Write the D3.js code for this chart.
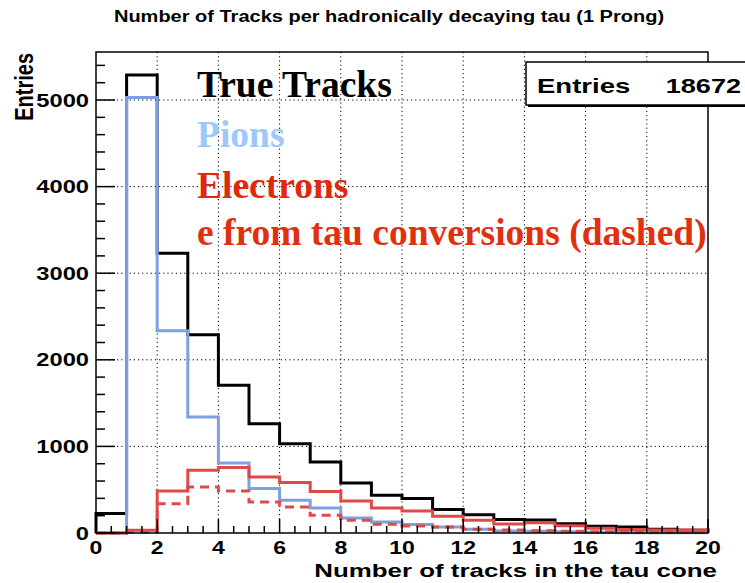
<!DOCTYPE html>
<html>
<head>
<meta charset="utf-8">
<script src="https://cdn.jsdelivr.net/npm/d3@7"></script>
<style>
  html, body { margin: 0; padding: 0; background: #fff; }
  svg { display: block; }
</style>
</head>
<body>
<svg id="chart" width="745" height="583"></svg>
<script>
// Bin lower edges (bin width 1, range 0..20)
const binLow = [0, 1, 2, 3, 4, 5, 6, 7, 8, 9, 10, 11, 12, 13, 14, 15, 16, 17, 18, 19];
const binHighLast = 20;

// Entries per bin
const trueTracks = [225, 5290, 3230, 2290, 1706, 1263, 1032, 820, 578, 435, 397, 270, 212, 155, 150, 108, 77, 69, 43, 32];
const pions      = [0, 5030, 2335, 1340, 808, 513, 378, 289, 173, 127, 97, 69, 43, 23, 20, 15, 10, 3, 2, 2];
const electrons  = [0, 31, 485, 724, 755, 647, 582, 480, 370, 289, 254, 193, 147, 105, 118, 85, 55, 40, 35, 35];
const tauConv    = [0, 10, 339, 531, 485, 358, 300, 204, 147, 100, 81, 69, 43, 35, 27, 19, 15, 10, 10, 10];

// Axis ticks
const xMajor = [0, 2, 4, 6, 8, 10, 12, 14, 16, 18, 20];
const yMajor = [0, 1000, 2000, 3000, 4000, 5000];
const xMinorStep = 0.5;
const yMinorStep = 200;

const titleText = "Number of Tracks per hadronically decaying tau (1 Prong)";
const xTitle = "Number of tracks in the tau cone";
const yTitle = "Entries";
const statsLabel = "Entries";
const statsValue = "18672";

const legendItems = [
  { text: "True Tracks", color: "#000000" },
  { text: "Pions", color: "#9cc8fb" },
  { text: "Electrons", color: "#e0280c" },
  { text: "e from tau conversions (dashed)", color: "#e0300f" }
];

const svg = d3.select("#chart");
const W = 745, H = 583;
const frame = { left: 96, right: 708, top: 52, bottom: 533 };

const yMax = 1.05 * d3.max(trueTracks);
const x = d3.scaleLinear().domain([0, binHighLast]).range([frame.left, frame.right]);
const y = d3.scaleLinear().domain([0, yMax]).range([frame.bottom, frame.top]);

const sans = "'Liberation Sans', Arial, Helvetica, sans-serif";
const serif = "'Liberation Serif', 'Times New Roman', serif";

svg.append("rect").attr("width", W).attr("height", H).attr("fill", "#fff");

// Grid (dotted, at major ticks)
const grid = svg.append("g").attr("stroke", "#000").attr("stroke-width", 1)
  .attr("stroke-dasharray", "1.2,3");
grid.selectAll("line.gx").data(xMajor.slice(1, -1)).join("line")
  .attr("x1", d => x(d)).attr("x2", d => x(d))
  .attr("y1", frame.top).attr("y2", frame.bottom);
grid.selectAll("line.gy").data(yMajor.slice(1)).join("line")
  .attr("x1", frame.left).attr("x2", frame.right)
  .attr("y1", d => y(d)).attr("y2", d => y(d));

// Histogram outlines
function histPath(values) {
  const pts = [[0, 0]];
  values.forEach((v, i) => pts.push([binLow[i], v]));
  pts.push([binHighLast, values[values.length - 1]]);
  pts.push([binHighLast, 0]);
  return d3.line().x(d => x(d[0])).y(d => y(d[1])).curve(d3.curveStepAfter)(pts);
}
const hists = svg.append("g").attr("fill", "none").attr("stroke-width", 3)
  .attr("stroke-linejoin", "miter");
hists.append("path").attr("d", histPath(trueTracks)).attr("stroke", "#000");
hists.append("path").attr("d", histPath(pions)).attr("stroke", "#7ca0e0");
hists.append("path").attr("d", histPath(electrons)).attr("stroke", "#de4a48");
hists.append("path").attr("d", histPath(tauConv)).attr("stroke", "#de4a48")
  .attr("stroke-dasharray", "9,6");

// Frame
svg.append("rect")
  .attr("x", frame.left).attr("y", frame.top)
  .attr("width", frame.right - frame.left).attr("height", frame.bottom - frame.top)
  .attr("fill", "none").attr("stroke", "#000").attr("stroke-width", 1.5);

// Y axis ticks
const yAxisG = svg.append("g").attr("stroke", "#000").attr("stroke-width", 1.5);
const yMinor = d3.range(0, yMax, yMinorStep).filter(v => v % 1000 !== 0);
yAxisG.selectAll("line.ymin").data(yMinor).join("line")
  .attr("x1", frame.left).attr("x2", frame.left + 9)
  .attr("y1", d => y(d)).attr("y2", d => y(d));
yAxisG.selectAll("line.ymaj").data(yMajor).join("line")
  .attr("x1", frame.left).attr("x2", frame.left + 19)
  .attr("y1", d => y(d)).attr("y2", d => y(d));

// X axis ticks
const xAxisG = svg.append("g").attr("stroke", "#000").attr("stroke-width", 1.5);
const xMinor = d3.range(0, binHighLast, xMinorStep).filter(v => v % 2 !== 0);
xAxisG.selectAll("line.xmin").data(xMinor).join("line")
  .attr("x1", d => x(d)).attr("x2", d => x(d))
  .attr("y1", frame.bottom).attr("y2", frame.bottom - 7);
xAxisG.selectAll("line.xmaj").data(xMajor).join("line")
  .attr("x1", d => x(d)).attr("x2", d => x(d))
  .attr("y1", frame.bottom).attr("y2", frame.bottom - 14);

// Tick labels (wide bold sans, stretched horizontally)
svg.append("g").selectAll("text").data(yMajor).join("text")
  .attr("transform", d => `translate(89,${y(d) + 6.6}) scale(1.28,1)`)
  .attr("text-anchor", "end")
  .attr("font-family", sans).attr("font-weight", "bold").attr("font-size", 18.5)
  .text(d => d);
svg.append("g").selectAll("text").data(xMajor).join("text")
  .attr("transform", d => `translate(${x(d)},554) scale(1.28,1)`)
  .attr("text-anchor", "middle")
  .attr("font-family", sans).attr("font-weight", "bold").attr("font-size", 18)
  .text(d => d);

// Axis titles
svg.append("text")
  .attr("transform", "translate(717,577) scale(1.48,1)")
  .attr("text-anchor", "end")
  .attr("font-family", sans).attr("font-weight", "bold").attr("font-size", 17.5)
  .text(xTitle);
svg.append("text")
  .attr("transform", "translate(33,53) scale(1.3,1) rotate(-90)")
  .attr("text-anchor", "end")
  .attr("font-family", sans).attr("font-weight", "bold").attr("font-size", 20)
  .text(yTitle);

// Title
svg.append("text")
  .attr("transform", "translate(389,21.7) scale(1.25,1)")
  .attr("text-anchor", "middle")
  .attr("font-family", sans).attr("font-weight", "bold").attr("font-size", 16)
  .text(titleText);

// Statistics box
const stats = svg.append("g");
stats.append("rect").attr("x", 528).attr("y", 64).attr("width", 240).attr("height", 43)
  .attr("fill", "#000");
stats.append("rect").attr("x", 526).attr("y", 62).attr("width", 240).attr("height", 43)
  .attr("fill", "#fff").attr("stroke", "#000").attr("stroke-width", 1.5);
stats.append("text")
  .attr("transform", "translate(537,93.3) scale(1.31,1)")
  .attr("font-family", sans).attr("font-weight", "bold").attr("font-size", 21)
  .text(statsLabel);
stats.append("text")
  .attr("transform", "translate(741,93.3) scale(1.29,1)")
  .attr("text-anchor", "end")
  .attr("font-family", sans).attr("font-weight", "bold").attr("font-size", 21)
  .text(statsValue);

// Legend (serif captions)
const legendBaselines = [97, 147, 198, 245];
svg.append("g").selectAll("text").data(legendItems).join("text")
  .attr("x", 197).attr("y", (d, i) => legendBaselines[i])
  .attr("font-family", serif).attr("font-weight", "bold").attr("font-size", 37.5)
  .attr("fill", d => d.color)
  .text(d => d.text);
</script>
</body>
</html>
